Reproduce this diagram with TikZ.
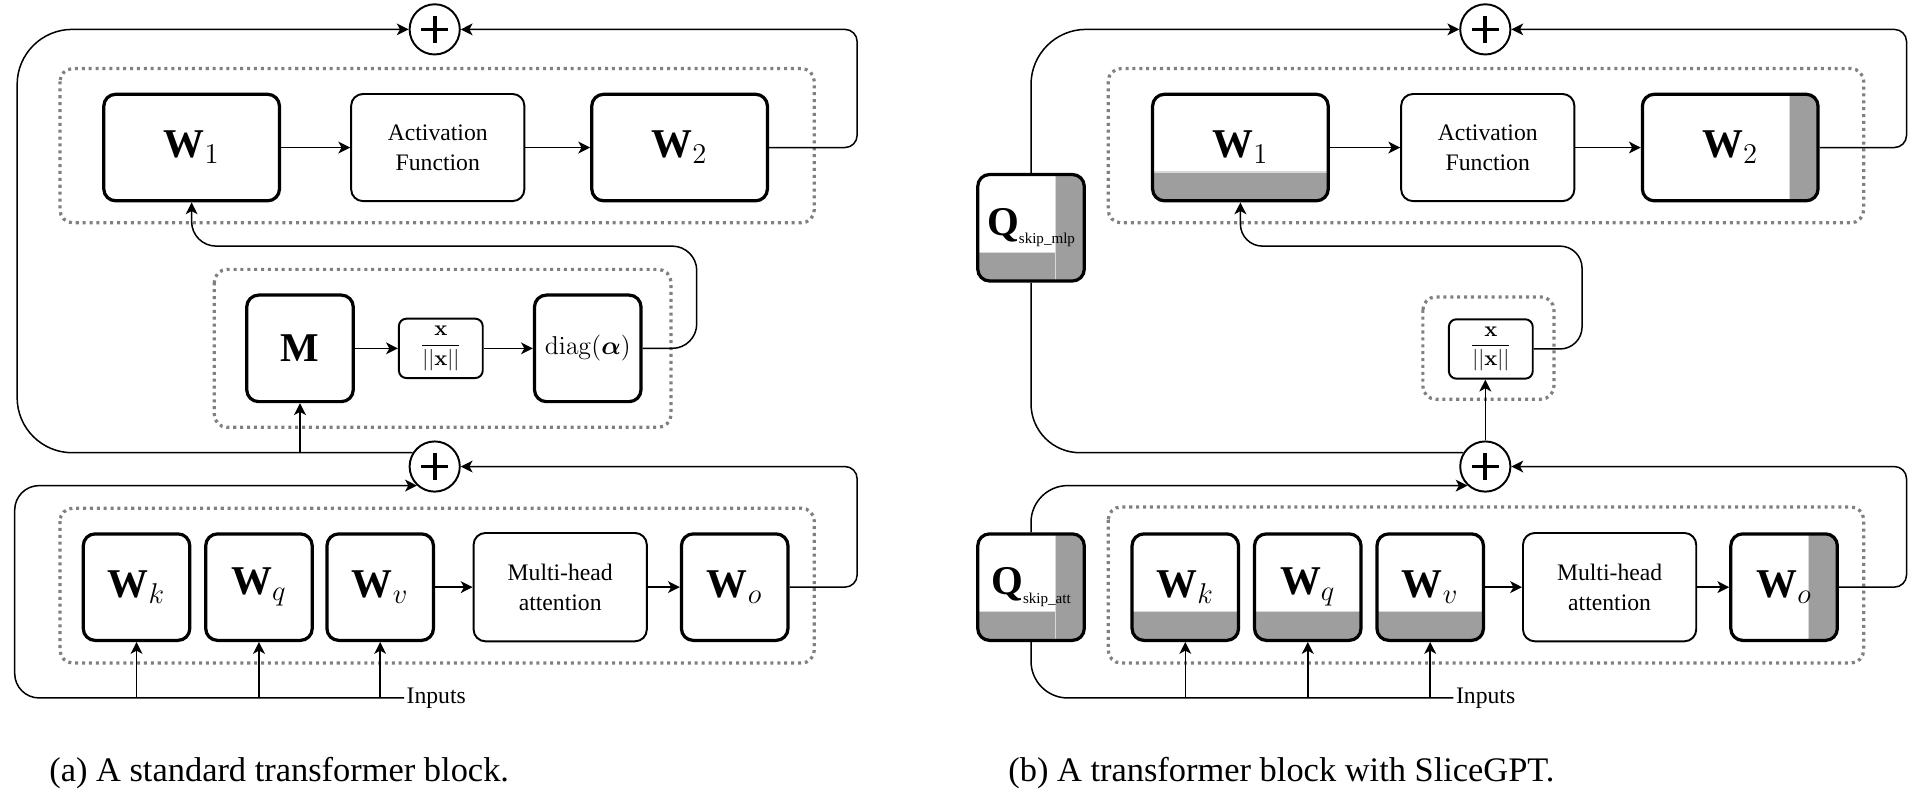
\RequirePackage{fix-cm}
\documentclass[tikz,border=0pt]{standalone}
\usepackage{amsmath, amssymb}
\usepackage[no-math]{fontspec}
\setmainfont{Liberation Serif}
\usepackage{tikz}
\usetikzlibrary{arrows.meta, positioning}

\definecolor{sliced}{HTML}{9E9E9E}
\definecolor{groupgray}{HTML}{808080}

\tikzset{
  link/.style={-{Stealth[length=5.5pt, width=5.5pt, inset=1.5pt]}, line width=0.7pt},
  wire/.style={line width=0.7pt},
  weight/.style={draw, line width=1.5pt, rounded corners=5.5pt, minimum width=1.74cm,
    minimum height=1.74cm, inner sep=0pt, font=\fontsize{19}{22}\selectfont},
  wideweight/.style={weight, minimum width=2.87cm},
  op/.style={draw, line width=0.9pt, rounded corners=5.5pt, minimum width=2.83cm,
    minimum height=1.75cm, align=center, font=\fontsize{11}{14}\selectfont},
  norm/.style={op, rounded corners=3.5pt, minimum width=1.37cm, minimum height=0.97cm,
    inner sep=0pt, font=\fontsize{10}{12}\selectfont},
  plus/.style={draw, circle, line width=0.9pt, minimum size=0.82cm, inner sep=0pt,
    path picture={\draw[line width=1.7pt]
      ([xshift=-0.22cm]path picture bounding box.center) -- ([xshift=0.22cm]path picture bounding box.center)
      ([yshift=-0.22cm]path picture bounding box.center) -- ([yshift=0.22cm]path picture bounding box.center);}},
  group/.style={draw=groupgray, line width=1.5pt, dash pattern=on 1.4pt off 1.8pt, rounded corners=6pt},
  band/.style={fill=sliced, draw=gray!30, line width=0.5pt, sharp corners},
  slicebot/.style={path picture={\filldraw[band]
      ([xshift=-2pt,yshift=-2pt]path picture bounding box.south west)
      rectangle ([xshift=2pt,yshift=0.47cm]path picture bounding box.south east);}},
  sliceright/.style={path picture={\filldraw[band]
      ([xshift=-0.47cm,yshift=-2pt]path picture bounding box.south east)
      rectangle ([xshift=2pt,yshift=2pt]path picture bounding box.north east);}},
  sliceboth/.style={path picture={\filldraw[band]
      ([xshift=-2pt,yshift=-2pt]path picture bounding box.south west)
      rectangle ([xshift=2pt,yshift=0.47cm]path picture bounding box.south east);
    \filldraw[band]
      ([xshift=-0.47cm,yshift=-2pt]path picture bounding box.south east)
      rectangle ([xshift=2pt,yshift=2pt]path picture bounding box.north east);}},
  caption/.style={font=\fontsize{16}{19}\selectfont},
  inlabel/.style={anchor=west, inner sep=1pt, font=\fontsize{11}{13}\selectfont}
}

\newcommand{\skipsub}[1]{\raisebox{-4pt}{\fontsize{7}{8}\selectfont #1}}

\begin{document}
\begin{tikzpicture}[x=0.02cm, y=-0.02cm]
    \useasboundingbox (0,0) rectangle (1568,648);

    % ---------------- (a) standard block ----------------
    % Residual adders
    \node[plus] (addTopA) at (355,24) {};
    \node[plus] (addMidA) at (355,381) {};

    % MLP block
    \draw[group] (49,56) rectangle (665,182);
    \node[wideweight] (W1a) at (156.5,120.5) {\textbf{W}$_1$};
    \node[op] (actA) at (357.5,120.5) {Activation\\Function};
    \node[wideweight] (W2a) at (555,120.5) {\textbf{W}$_2$};

    % LayerNorm block
    \draw[group] (175,220) rectangle (548,349);
    \node[weight] (Ma) at (245,284.5) {\textbf{M}};
    \node[norm] (normA) at (360,284.5) {$\dfrac{\mathbf{x}}{||\mathbf{x}||}$};
    \node[weight, font=\fontsize{12}{14}\selectfont] (diagA) at (480,284.5) {$\mathrm{diag}(\boldsymbol{\alpha})$};

    % Attention block
    \draw[group] (49,415) rectangle (665,541.5);
    \node[weight] (Wka) at (111.5,479.5) {\textbf{W}$_k$};
    \node[weight] (Wqa) at (211.5,479.5) {\textbf{W}$_q$};
    \node[weight] (Wva) at (310.5,479.5) {\textbf{W}$_v$};
    \node[op, minimum height=1.77cm] (mhaA) at (457.5,479.5) {Multi-head\\attention};
    \node[weight] (Woa) at (600,479.5) {\textbf{W}$_o$};
    \node[inlabel] (inA) at (330,570) {Inputs};

    % Wires of the attention block
    \draw[link, rounded corners=0.4cm] (inA.west) -| (12,480) |- (addMidA.227);
    \draw[link] (Wka.south |- inA.west) -- (Wka.south);
    \draw[link] (Wqa.south |- inA.west) -- (Wqa.south);
    \draw[link] (Wva.south |- inA.west) -- (Wva.south);
    \draw[link] (Wva) -- (mhaA);
    \draw[link] (mhaA) -- (Woa);
    \draw[link, rounded corners=0.2cm] (Woa.east) -| (700,430) |- (addMidA.east);

    % Wires of the LayerNorm and MLP
    \draw[link, rounded corners=0.9cm] (addMidA.148) -| (14,200) |- (addTopA.west);
    \draw[link] (addMidA.148 -| Ma.south) -- (Ma.south);
    \draw[link] (Ma) -- (normA);
    \draw[link] (normA) -- (diagA);
    \draw[link, rounded corners=0.4cm] (diagA.east) -| (569,240) |- (W1a.south |- 0,201) -- (W1a.south);
    \draw[link] (W1a) -- (actA);
    \draw[link] (actA) -- (W2a);
    \draw[link, rounded corners=0.2cm] (W2a.east) -| (700,70) |- (addTopA.east);

    \node[caption] (capA) at (228,631) {(a) A standard transformer block.};

    % ---------------- (b) SliceGPT block ----------------
    % Residual adders
    \node[plus] (addTopB) at (1213,24) {};
    \node[plus] (addMidB) at (1213,381) {};

    % MLP block
    \draw[group] (905,56) rectangle (1522,182);
    \node[wideweight, slicebot] (W1b) at (1013,120.5) {\textbf{W}$_1$};
    \node[op] (actB) at (1215,120.5) {Activation\\Function};
    \node[wideweight, sliceright] (W2b) at (1413,120.5) {\textbf{W}$_2$};
    \node[weight, sliceboth] (Qmb) at (842,186) {\textbf{Q}\skipsub{skip\_mlp}};

    % Norm block
    \draw[group] (1162,242.5) rectangle (1269,326);
    \node[norm] (normB) at (1217.5,285) {$\dfrac{\mathbf{x}}{||\mathbf{x}||}$};

    % Attention block
    \draw[group] (905,414) rectangle (1522,541.5);
    \node[weight, sliceboth] (Qab) at (842,479.5) {\textbf{Q}\skipsub{skip\_att}};
    \node[weight, slicebot] (Wkb) at (968,479.5) {\textbf{W}$_k$};
    \node[weight, slicebot] (Wqb) at (1068,479.5) {\textbf{W}$_q$};
    \node[weight, slicebot] (Wvb) at (1168,479.5) {\textbf{W}$_v$};
    \node[op, minimum height=1.77cm] (mhaB) at (1314.5,479.5) {Multi-head\\attention};
    \node[weight, sliceright] (Wob) at (1457,479.5) {\textbf{W}$_o$};
    \node[inlabel] (inB) at (1187,570) {Inputs};

    % Wires of the attention block
    \draw[wire, rounded corners=0.6cm] (inB.west) -| (Qab.south);
    \draw[link, rounded corners=0.6cm] (Qab.north) |- (addMidB.227);
    \draw[link] (Wkb.south |- inB.west) -- (Wkb.south);
    \draw[link] (Wqb.south |- inB.west) -- (Wqb.south);
    \draw[link] (Wvb.south |- inB.west) -- (Wvb.south);
    \draw[link] (Wvb) -- (mhaB);
    \draw[link] (mhaB) -- (Wob);
    \draw[link, rounded corners=0.2cm] (Wob.east) -| (1557,430) |- (addMidB.east);

    % Wires of the norm and MLP
    \draw[wire, rounded corners=0.8cm] (addMidB.148) -| (Qmb.south);
    \draw[link, rounded corners=0.9cm] (Qmb.north) |- (addTopB.west);
    \draw[link] (addMidB.north) -- (addMidB.north |- normB.south);
    \draw[link, rounded corners=0.36cm] (normB.east) -| (1292,240) |- (W1b.south |- 0,201) -- (W1b.south);
    \draw[link] (W1b) -- (actB);
    \draw[link] (actB) -- (W2b);
    \draw[link, rounded corners=0.2cm] (W2b.east) -| (1557,70) |- (addTopB.east);

    \node[caption] (capB) at (1046.5,631) {(b) A transformer block with SliceGPT.};
\end{tikzpicture}
\end{document}
